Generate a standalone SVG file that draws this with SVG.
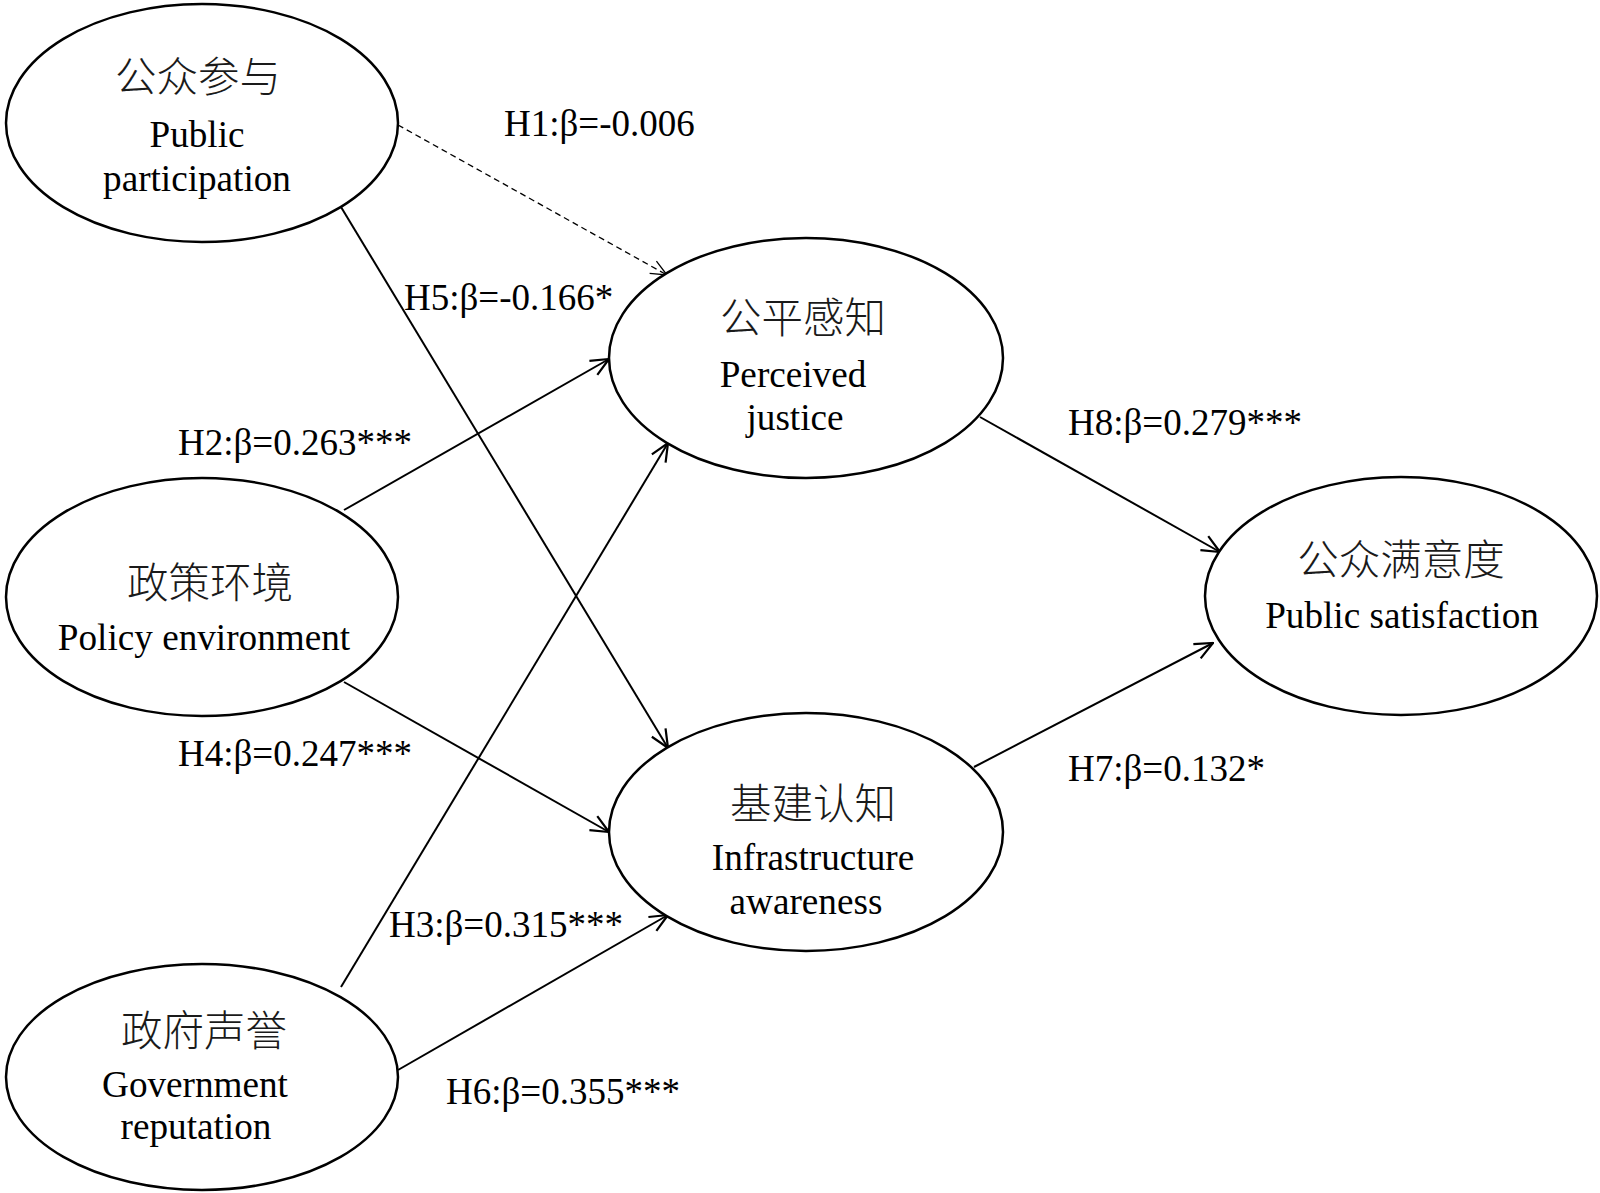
<svg xmlns="http://www.w3.org/2000/svg" width="1600" height="1193" viewBox="0 0 1600 1193">
<style>
.node{fill:#fff;stroke:#000;stroke-width:2.5}
.cn{font-family:"Noto Sans CJK SC","Liberation Serif",serif;font-size:41.5px;fill:#1a1a1a;text-anchor:middle;font-weight:300}
.en{font-family:"Liberation Serif",serif;font-size:37.2px;fill:#000;text-anchor:middle}
.lb{font-family:"Liberation Serif",serif;font-size:37px;fill:#000}
.edge{stroke:#000;stroke-width:2;fill:none;marker-end:url(#arr)}
.dash{stroke:#000;stroke-width:1.3;fill:none;stroke-dasharray:6,4;marker-end:url(#arrt)}
</style>
<defs>
<marker id="arr" viewBox="0 0 22 22" refX="21" refY="11" markerWidth="22" markerHeight="22" markerUnits="userSpaceOnUse" orient="auto">
<path d="M3,3 L21,11 L3,19" fill="none" stroke="#000" stroke-width="2.2"/>
</marker>
<marker id="arrt" viewBox="0 0 20 20" refX="19" refY="10" markerWidth="20" markerHeight="20" markerUnits="userSpaceOnUse" orient="auto">
<path d="M3,3 L19,10 L3,17" fill="none" stroke="#000" stroke-width="1.3"/>
</marker>
</defs>
<rect width="1600" height="1193" fill="#fff"/>
<g id="connectors">
<line class="dash" x1="398" y1="125" x2="667" y2="275"/>
<line class="edge" x1="341" y1="207" x2="668" y2="748"/>
<line class="edge" x1="344" y1="510" x2="609" y2="359"/>
<line class="edge" x1="344" y1="682" x2="609" y2="832"/>
<line class="edge" x1="341" y1="987" x2="668" y2="443"/>
<line class="edge" x1="398" y1="1070" x2="668" y2="915"/>
<line class="edge" x1="980" y1="417" x2="1220" y2="552"/>
<line class="edge" x1="974" y1="767" x2="1213" y2="643"/>
</g>
<g id="labels">
<text class="lb" x="504" y="136">H1:β=-0.006</text>
<text class="lb" x="404" y="310">H5:β=-0.166*</text>
<text class="lb" x="178" y="455">H2:β=0.263***</text>
<text class="lb" x="178" y="766">H4:β=0.247***</text>
<text class="lb" x="389" y="937">H3:β=0.315***</text>
<text class="lb" x="446" y="1104">H6:β=0.355***</text>
<text class="lb" x="1068" y="435">H8:β=0.279***</text>
<text class="lb" x="1068" y="781">H7:β=0.132*</text>
</g>
<g id="node-public-participation">
<ellipse class="node" cx="202" cy="123" rx="196" ry="119"/>
<text class="cn" x="198" y="92">公众参与</text>
<text class="en" x="197" y="147">Public</text>
<text class="en" x="197" y="191">participation</text>
</g>
<g id="node-policy-environment">
<ellipse class="node" cx="202" cy="597" rx="196" ry="119"/>
<text class="cn" x="210" y="598">政策环境</text>
<text class="en" x="204" y="650">Policy environment</text>
</g>
<g id="node-government-reputation">
<ellipse class="node" cx="202" cy="1077" rx="196" ry="113"/>
<text class="cn" x="204" y="1046">政府声誉</text>
<text class="en" x="195" y="1097">Government</text>
<text class="en" x="196" y="1139">reputation</text>
</g>
<g id="node-perceived-justice">
<ellipse class="node" cx="806" cy="358" rx="197" ry="120"/>
<text class="cn" x="803" y="333">公平感知</text>
<text class="en" x="793" y="387">Perceived</text>
<text class="en" x="795" y="430">justice</text>
</g>
<g id="node-infrastructure-awareness">
<ellipse class="node" cx="806" cy="832" rx="197" ry="119"/>
<text class="cn" x="813" y="819">基建认知</text>
<text class="en" x="813" y="870">Infrastructure</text>
<text class="en" x="806" y="914">awareness</text>
</g>
<g id="node-public-satisfaction">
<ellipse class="node" cx="1401" cy="596" rx="196" ry="119"/>
<text class="cn" x="1401" y="575">公众满意度</text>
<text class="en" x="1402" y="628">Public satisfaction</text>
</g>
</svg>
